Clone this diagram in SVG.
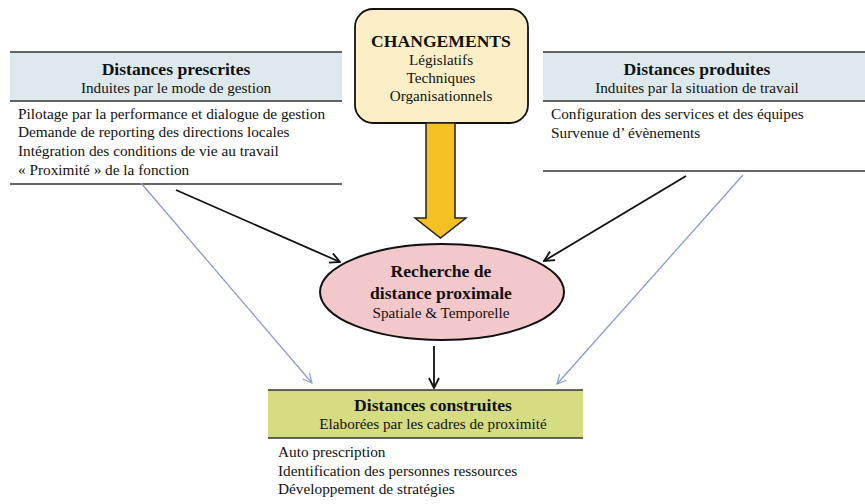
<svg xmlns="http://www.w3.org/2000/svg" width="865" height="504" viewBox="0 0 865 504">
<defs>
<style>
text{font-family:"Liberation Serif","Times New Roman",serif;fill:#111;}
.h{font-weight:bold;font-size:17.6px;text-anchor:middle;}
.s{font-size:15.2px;text-anchor:middle;}
.l{font-size:15.3px;}
.rule{stroke:#333;stroke-width:1.5;}
.blk{stroke:#111;stroke-width:1.8;fill:none;}
.blu{stroke:#8c9ccb;stroke-width:1.3;fill:none;}
</style>
<marker id="ab" viewBox="0 0 12 12" refX="11" refY="6" markerWidth="12" markerHeight="12" markerUnits="userSpaceOnUse" orient="auto"><path d="M1,1 L11,6 L1,11" fill="none" stroke="#111" stroke-width="1.8"/></marker>
<marker id="au" viewBox="0 0 12 12" refX="11" refY="6" markerWidth="11" markerHeight="11" markerUnits="userSpaceOnUse" orient="auto"><path d="M1,1 L11,6 L1,11" fill="none" stroke="#8c9ccb" stroke-width="1.3"/></marker>
</defs>
<rect width="865" height="504" fill="#fff"/>
<g id="prescrites">
<rect x="10" y="52" width="332" height="49" fill="#dee9ee"/>
<line class="rule" x1="10" y1="52" x2="342" y2="52"/>
<line class="rule" x1="10" y1="101" x2="342" y2="101"/>
<line class="rule" x1="10" y1="184" x2="342" y2="184"/>
<text class="h" x="176" y="75">Distances prescrites</text>
<text class="s" x="176" y="93">Induites par le mode de gestion</text>
<text class="l" x="18" y="119">Pilotage par la performance et dialogue de gestion</text>
<text class="l" x="18" y="137">Demande de reporting des directions locales</text>
<text class="l" x="18" y="156">Intégration des conditions de vie au travail</text>
<text class="l" x="18" y="175">« Proximité » de la fonction</text>
</g>
<g id="produites">
<rect x="543" y="52" width="322" height="49" fill="#dee9ee"/>
<line class="rule" x1="543" y1="52" x2="865" y2="52"/>
<line class="rule" x1="543" y1="101" x2="865" y2="101"/>
<line class="rule" x1="543" y1="171" x2="865" y2="171"/>
<text class="h" x="697" y="75">Distances produites</text>
<text class="s" x="697" y="93">Induites par la situation de travail</text>
<text class="l" x="551" y="119">Configuration des services et des équipes</text>
<text class="l" x="551" y="138">Survenue d’ évènements</text>
</g>
<g id="changements">
<rect x="355" y="9" width="173" height="114" rx="18" fill="#fcefc8" stroke="#111" stroke-width="1.8"/>
<text class="h" x="441" y="47">CHANGEMENTS</text>
<text class="s" x="441" y="65">Législatifs</text>
<text class="s" x="441" y="83">Techniques</text>
<text class="s" x="441" y="101">Organisationnels</text>
</g>
<g id="recherche">
<ellipse cx="442" cy="292" rx="122" ry="48" fill="#f2c8cb" stroke="#111" stroke-width="2"/>
<text class="h" x="441" y="277">Recherche de</text>
<text class="h" x="441" y="299">distance proximale</text>
<text class="s" x="441" y="318">Spatiale &amp; Temporelle</text>
</g>
<g id="construites">
<rect x="268" y="390" width="315" height="48" fill="#d6dc82"/>
<line class="rule" x1="268" y1="390" x2="583" y2="390"/>
<line class="rule" x1="268" y1="438" x2="583" y2="438"/>
<text class="h" x="433" y="411">Distances construites</text>
<text class="s" x="433" y="429">Elaborées par les cadres de proximité</text>
<text class="l" x="278" y="457">Auto prescription</text>
<text class="l" x="278" y="476">Identification des personnes ressources</text>
<text class="l" x="278" y="494">Développement de stratégies</text>
</g>
<g id="connectors">
<polygon points="426,123 455,123 455,218 466,218 440.5,238 415,218 426,218" fill="#f5c024" stroke="#222" stroke-width="1.5" stroke-linejoin="miter"/>
<line class="blk" x1="176" y1="190" x2="340" y2="262" marker-end="url(#ab)"/>
<line class="blk" x1="686" y1="176" x2="544" y2="261" marker-end="url(#ab)"/>
<line class="blk" x1="434" y1="346" x2="434" y2="388" marker-end="url(#ab)"/>
<line class="blu" x1="141" y1="183" x2="312" y2="383" marker-end="url(#au)"/>
<line class="blu" x1="743" y1="175" x2="557" y2="384" marker-end="url(#au)"/>
</g>
</svg>
